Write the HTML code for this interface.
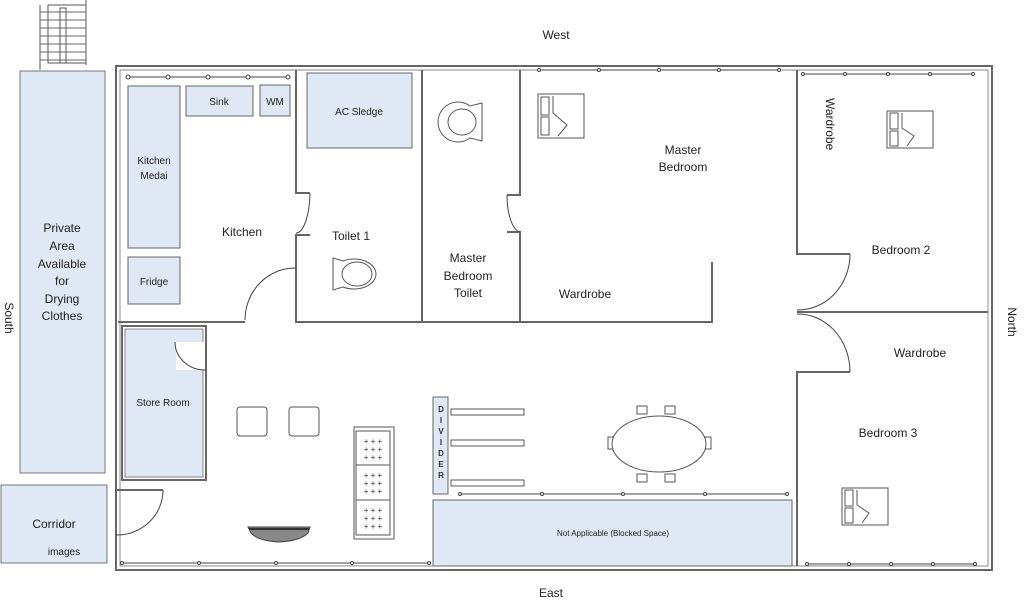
<!DOCTYPE html>
<html><head><meta charset="utf-8"><style>
html,body{margin:0;padding:0;background:#fff;}
svg{display:block;font-family:"Liberation Sans",sans-serif;}
</style></head><body>
<svg width="1024" height="600" viewBox="0 0 1024 600" xmlns="http://www.w3.org/2000/svg">
<g fill="none" stroke="#555" stroke-width="1">
<rect x="48" y="5" width="38" height="58"/>
<line x1="40" y1="5" x2="40" y2="70"/><line x1="86" y1="0" x2="86" y2="65"/>
<rect x="60" y="8" width="6" height="55"/>
<g stroke="#666"><line x1="40" y1="12" x2="86" y2="12"/><line x1="40" y1="20" x2="86" y2="20"/><line x1="40" y1="28" x2="86" y2="28"/><line x1="40" y1="36" x2="86" y2="36"/><line x1="40" y1="44" x2="86" y2="44"/><line x1="40" y1="52" x2="86" y2="52"/><line x1="40" y1="60" x2="86" y2="60"/></g>
</g>
<rect x="20" y="71" width="85" height="402" fill="#dfe8f4" stroke="#777"/>
<rect x="1" y="485" width="106" height="78" fill="#dfe8f4" stroke="#777"/>
<rect x="116" y="66" width="876" height="504" fill="none" stroke="#666" stroke-width="2"/>
<rect x="120" y="70" width="868" height="496" fill="none" stroke="#888" stroke-width="1"/>
<g stroke="#666" stroke-width="2" fill="none">
<polyline points="296,70 296,193 310,193"/>
<polyline points="310,235 296,235 296,322 712,322 712,262"/>
<polyline points="118,322 245,322"/>
<line x1="422" y1="70" x2="422" y2="322"/>
<polyline points="520,70 520,195 507,195"/>
<polyline points="507,232 520,232 520,322"/>
<polyline points="797,70 797,254 850,254"/>
<polyline points="797,312 988,312"/>
<polyline points="797,566 797,372 850,372"/>
<rect x="122" y="326" width="84" height="154"/>
<polyline points="116,480 116,490 163,490"/>
</g>
<rect x="125" y="329" width="78" height="148" fill="#dfe8f4" stroke="#888"/>
<rect x="176" y="342" width="28" height="28" fill="#fff" stroke="none"/>
<g fill="none" stroke="#444" stroke-width="1">
<path d="M296,268 A50,52 0 0 0 245,320"/>
<path d="M310,193 A14,42 0 0 1 296,233"/>
<path d="M507,195 A14,37 0 0 0 520,232"/>
<path d="M850,254 A52,56 0 0 1 797,310"/>
<path d="M850,372 A52,58 0 0 0 797,314"/>
<path d="M175,342 A30,28 0 0 0 206,370"/>
<path d="M163,490 A46,45 0 0 1 116,535"/>
</g>
<g stroke="#444" fill="#fff" stroke-width="1">
<line x1="128" y1="77" x2="288" y2="77"/><circle cx="128" cy="77" r="2"/><circle cx="168" cy="77" r="2"/><circle cx="208" cy="77" r="2"/><circle cx="248" cy="77" r="2"/><circle cx="288" cy="77" r="2"/>
<line x1="539" y1="70" x2="779" y2="70"/><circle cx="539" cy="70" r="1.5"/><circle cx="599" cy="70" r="1.5"/><circle cx="659" cy="70" r="1.5"/><circle cx="719" cy="70" r="1.5"/><circle cx="779" cy="70" r="1.5"/>
<line x1="803" y1="74" x2="973" y2="74"/><circle cx="803" cy="74" r="1.5"/><circle cx="845" cy="74" r="1.5"/><circle cx="888" cy="74" r="1.5"/><circle cx="930" cy="74" r="1.5"/><circle cx="973" cy="74" r="1.5"/>
<line x1="121" y1="563" x2="430" y2="563"/><circle cx="122" cy="563" r="1.5"/><circle cx="199" cy="563" r="1.5"/><circle cx="276" cy="563" r="1.5"/><circle cx="352" cy="563" r="1.5"/><circle cx="429" cy="563" r="1.5"/>
<line x1="460" y1="494" x2="787" y2="494"/><circle cx="460" cy="494" r="1.5"/><circle cx="542" cy="494" r="1.5"/><circle cx="623" cy="494" r="1.5"/><circle cx="705" cy="494" r="1.5"/><circle cx="787" cy="494" r="1.5"/>
<line x1="807" y1="564" x2="975" y2="564"/><circle cx="807" cy="564" r="1.5"/><circle cx="849" cy="564" r="1.5"/><circle cx="891" cy="564" r="1.5"/><circle cx="933" cy="564" r="1.5"/><circle cx="975" cy="564" r="1.5"/>
</g>
<g fill="#dfe8f4" stroke="#666">
<rect x="128" y="86" width="52" height="162"/>
<rect x="128" y="257" width="52" height="47"/>
<rect x="186" y="86" width="67" height="30"/>
<rect x="260" y="85" width="30" height="31"/>
<rect x="307" y="73" width="105" height="75"/>
<rect x="433" y="500" width="359" height="66"/>
<rect x="433" y="397" width="15" height="97"/>
</g>
<g fill="#fff" stroke="#555">
<path d="M333,258 L333,290 L343,287 A22,15 0 1 0 343,261 Z"/><ellipse cx="357" cy="274" rx="15" ry="12"/>
<path d="M482,103 L482,141 L470,138 A20,20 0 1 1 470,106 Z"/><ellipse cx="462" cy="122" rx="14" ry="13"/>
<rect x="538" y="94" width="46" height="44"/><rect x="541" y="97" width="8" height="18"/><rect x="541" y="117" width="8" height="18"/><path d="M553,96 L553,113 L567,125 L558,136"/>
<rect x="887" y="111" width="46" height="37"/><rect x="890" y="113" width="8" height="16"/><rect x="890" y="131" width="8" height="15"/><path d="M902,113 L902,128 L914,136 L907,146"/>
<rect x="842" y="488" width="46" height="37"/><rect x="845" y="490" width="8" height="16"/><rect x="845" y="508" width="8" height="15"/><path d="M857,490 L857,505 L869,513 L862,523"/>
<rect x="237" y="407" width="30" height="29" rx="3"/><rect x="289" y="407" width="30" height="29" rx="3"/>
<rect x="354" y="427" width="40" height="112"/><rect x="356" y="431" width="34" height="34"/><rect x="356" y="465" width="34" height="35"/><rect x="356" y="500" width="34" height="35"/>
<rect x="451" y="409" width="73" height="6"/><rect x="451" y="440" width="73" height="6"/><rect x="451" y="480" width="73" height="6"/>
<rect x="608" y="437" width="6" height="12"/><rect x="705" y="437" width="6" height="12"/>
<rect x="637" y="406" width="10" height="8"/><rect x="665" y="406" width="10" height="8"/><rect x="637" y="474" width="10" height="8"/><rect x="665" y="474" width="10" height="8"/>
<ellipse cx="659" cy="444" rx="47" ry="28"/>
</g>
<path d="M248,527 L310,527 L308,533 Q300,541 279,542 Q258,541 251,533 Z" fill="#888" stroke="#444"/>
<line x1="249" y1="529" x2="309" y2="529" stroke="#333" stroke-width="2"/>
<g font-size="8" fill="#333" text-anchor="middle">
<text x="373" y="444">+ + +</text><text x="373" y="452">+ + +</text><text x="373" y="460">+ + +</text>
<text x="373" y="478">+ + +</text><text x="373" y="486">+ + +</text><text x="373" y="494">+ + +</text>
<text x="373" y="513">+ + +</text><text x="373" y="521">+ + +</text><text x="373" y="529">+ + +</text>
</g>
<g font-size="8" fill="#333" text-anchor="middle" font-weight="bold">
<text x="441" y="412">D</text><text x="441" y="423">I</text><text x="441" y="434">V</text><text x="441" y="445">I</text><text x="441" y="456">D</text><text x="441" y="467">E</text><text x="441" y="478">R</text>
</g>
<g fill="#222" text-anchor="middle" font-size="12">
<text x="556" y="39">West</text>
<text x="551" y="597">East</text>
<text transform="translate(5,318) rotate(90)" >South</text>
<text transform="translate(1008,322) rotate(90)">North</text>
<text x="62" y="232">Private</text><text x="62" y="250">Area</text><text x="62" y="268">Available</text><text x="62" y="285">for</text><text x="62" y="303">Drying</text><text x="62" y="320">Clothes</text>
<text x="54" y="528">Corridor</text>
<text x="64" y="555" font-size="10">images</text>
<text x="154" y="164" font-size="10">Kitchen</text><text x="154" y="179" font-size="10">Medai</text>
<text x="154" y="285" font-size="10">Fridge</text>
<text x="219" y="105" font-size="10">Sink</text>
<text x="275" y="105" font-size="10">WM</text>
<text x="359" y="115" font-size="10">AC Sledge</text>
<text x="242" y="236">Kitchen</text>
<text x="351" y="240">Toilet 1</text>
<text x="468" y="262">Master</text><text x="468" y="280">Bedroom</text><text x="468" y="297">Toilet</text>
<text x="683" y="154">Master</text><text x="683" y="171">Bedroom</text>
<text x="585" y="298">Wardrobe</text>
<text x="901" y="254">Bedroom 2</text>
<text x="920" y="357">Wardrobe</text>
<text x="888" y="437">Bedroom 3</text>
<text transform="translate(826,98) rotate(90)" text-anchor="start">Wardrobe</text>
<text x="163" y="406" font-size="10">Store Room</text>
<text x="613" y="536" font-size="8">Not Applicable (Blocked Space)</text>
</g>
</svg>
</body></html>
